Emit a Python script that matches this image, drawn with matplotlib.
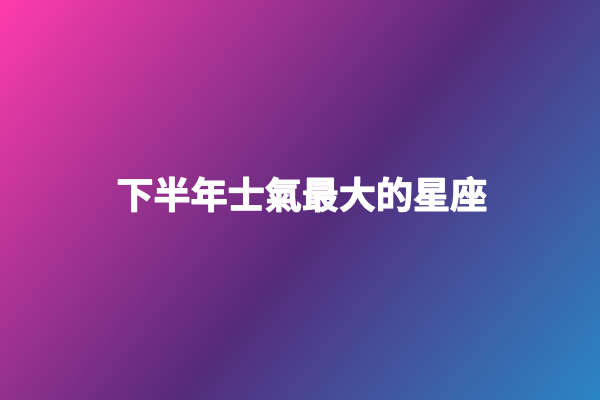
import matplotlib.pyplot as plt
import matplotlib.patheffects as pe
import numpy as np
from matplotlib.colors import LinearSegmentedColormap

title = '下半年士氣最大的星座'
stop_colors = ['#ff3cac', '#562b7c', '#2b86c5']
stop_pos = [0.0, 0.54, 1.0]

plt.rcParams['font.family'] = ['Noto Sans CJK TC', 'DejaVu Sans']

W, H = 600, 400
fig = plt.figure(figsize=(6, 4), dpi=100)
ax = fig.add_axes([0, 0, 1, 1])
ax.set_xlim(0, W)
ax.set_ylim(H, 0)
ax.axis('off')

# diagonal gradient background
yy, xx = np.mgrid[0:H, 0:W] + 0.5
d = np.array([400.0, 320.0])
d /= np.linalg.norm(d)
proj = xx * d[0] + yy * d[1]
t = (proj - proj.min()) / (proj.max() - proj.min())
cmap = LinearSegmentedColormap.from_list('bg', list(zip(stop_pos, stop_colors)))
ax.imshow(t, cmap=cmap, extent=(0, W, H, 0), aspect='auto', interpolation='bilinear')

# slightly thicker strokes than plain bold
ax.text(W / 2 + 2, 198, title, color='white', fontsize=26.7, fontweight='bold',
        ha='center', va='center',
        path_effects=[pe.withStroke(linewidth=0.9, foreground='white')])

fig.savefig('out.png', dpi=100)
